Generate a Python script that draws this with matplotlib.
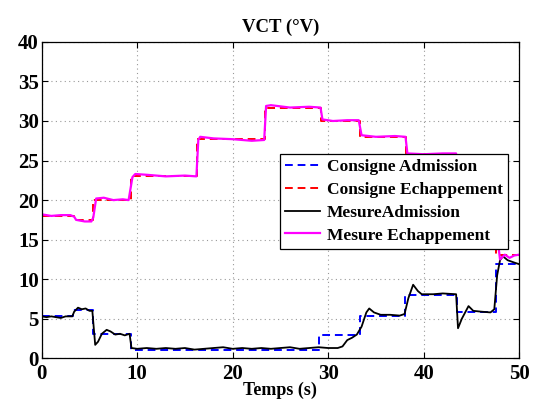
import matplotlib
matplotlib.use("Agg")
import matplotlib.pyplot as plt

plt.rcParams['font.family'] = ['Liberation Serif', 'DejaVu Serif']
plt.rcParams['font.weight'] = 'bold'

# consigne (setpoints), step-wise: value holds from t[i] to t[i+1]
t_cons_adm = [0, 3.3, 5.4, 9.3, 29.0, 33.3, 38.1, 43.5, 47.6, 50]
v_cons_adm = [5.3, 6.1, 3.1, 1.0, 3.0, 5.4, 8.0, 5.8, 11.9, 11.9]

t_cons_ech = [0, 3.4, 5.4, 9.3, 16.3, 23.4, 29.3, 33.3, 38.2, 43.5, 47.6, 50]
v_cons_ech = [18.0, 17.5, 20.0, 23.1, 27.7, 31.7, 30.0, 28.0, 25.8, 21.0, 13.0, 13.0]

# mesures
t_mes_adm = [0.0, 0.5, 1.0, 1.5, 2.0, 2.5, 3.2, 3.4, 3.8, 4.2, 4.6, 5.0, 5.3,
             5.6, 5.9, 6.3, 6.8, 7.2, 7.7, 8.2, 8.7, 9.2, 9.4, 10, 11, 12, 13,
             14, 15, 16, 17, 18, 19, 20, 21, 22, 23, 24, 25, 26, 27, 28, 29,
             30, 31, 31.5, 32, 32.5, 33.0, 33.5, 34.0, 34.3, 34.8, 35.5, 36.5,
             37.5, 38.0, 38.4, 38.9, 39.4, 39.8, 41, 42, 43.4, 43.6, 44.0,
             44.7, 45.2, 46, 47, 47.4, 47.7, 48.0, 48.3, 48.8, 49.5, 50]
v_mes_adm = [5.3, 5.2, 5.3, 5.2, 5.1, 5.3, 5.3, 5.9, 6.4, 6.2, 6.3, 6.0, 6.0,
             1.7, 2.1, 3.1, 3.6, 3.4, 3.0, 3.1, 2.9, 3.1, 1.3, 1.2, 1.3, 1.2, 1.3,
             1.2, 1.3, 1.1, 1.2, 1.3, 1.4, 1.2, 1.3, 1.2, 1.3, 1.2, 1.3, 1.4, 1.2, 1.3, 1.4,
             1.3, 1.3, 1.5, 2.3, 2.6, 3.0, 4.0, 5.8, 6.3, 5.8, 5.5, 5.5,
             5.4, 5.6, 7.6, 9.3, 8.5, 8.1, 8.1, 8.2, 8.1, 3.8, 5.0,
             6.6, 6.0, 5.9, 5.8, 6.2, 10.5, 12.4, 12.9, 12.4, 12.1, 11.9]

t_mes_ech = [0, 1, 2, 3, 3.4, 3.6, 4.5, 5.2, 5.4, 5.7, 6.5, 7.5, 8.5, 9.1,
             9.5, 9.8, 11, 13, 15, 16.2, 16.4, 16.6, 18, 20, 22, 23.3, 23.5,
             24, 26, 28, 29.2, 29.4, 30.5, 32, 33.2, 33.5, 35, 37, 38.1, 38.3,
             40, 42, 43.4, 43.6, 47.5, 47.8, 48.0, 48.5, 49, 49.5, 50]
v_mes_ech = [18.2, 18.0, 18.1, 18.1, 17.9, 17.5, 17.3, 17.3, 17.8, 20.2, 20.3, 20.0, 20.1, 20.0,
             22.9, 23.3, 23.2, 23.0, 23.1, 23.0, 27.6, 28.0, 27.8, 27.7, 27.5, 27.6, 31.9,
             32.0, 31.7, 31.8, 31.7, 30.2, 30.0, 30.1, 30.1, 28.2, 28.0, 28.1, 28.0, 25.9,
             25.8, 25.9, 25.9, 21.0, 21.0, 14.5, 12.5, 13.1, 12.7, 13.0, 13.1]

fig = plt.figure(figsize=(5.37, 3.99), dpi=100)
ax = fig.add_axes([0.0777, 0.102, 0.889, 0.793])

dash = (0, (4, 2.5))
ax.step(t_cons_adm, v_cons_adm, where='post', color='#0000ff', lw=1.4,
        linestyle=dash, label='Consigne Admission')
ax.step(t_cons_ech, v_cons_ech, where='post', color='#ff0000', lw=1.4,
        linestyle=dash, label='Consigne Echappement')
ax.plot(t_mes_adm, v_mes_adm, color='black', lw=1.3, label='MesureAdmission')
ax.plot(t_mes_ech, v_mes_ech, color='#ff00ff', lw=1.6, label='Mesure Echappement')

ax.set_xlim(0, 50)
ax.set_ylim(0, 40)
ax.set_xticks(range(0, 51, 10))
ax.set_yticks(range(0, 41, 5))
ax.grid(True, linestyle=(0, (1, 3)), color='#999999', lw=0.8)
ax.tick_params(direction='in', top=True, right=True, length=4,
               labelsize=15, pad=2)
ax.tick_params(axis='x', pad=4)
for lab in ax.get_xticklabels() + ax.get_yticklabels():
    lab.set_fontweight('bold')
for sp in ax.spines.values():
    sp.set_linewidth(0.9)

ax.set_title('VCT (°V)', fontsize=13.5, fontweight='bold', pad=7)
ax.set_xlabel('Temps (s)', fontsize=13, fontweight='bold')
ax.xaxis.set_label_coords(0.5, -0.075)

leg = ax.legend(loc='upper right', bbox_to_anchor=(0.977, 0.646),
                prop={'size': 12.5, 'weight': 'bold'}, fancybox=False,
                framealpha=1, edgecolor='black', handlelength=2.0,
                handletextpad=0.4, borderpad=0.3, labelspacing=0.38,
                borderaxespad=0)
leg.get_frame().set_linewidth(0.9)

fig.savefig('out.png', dpi=100)
